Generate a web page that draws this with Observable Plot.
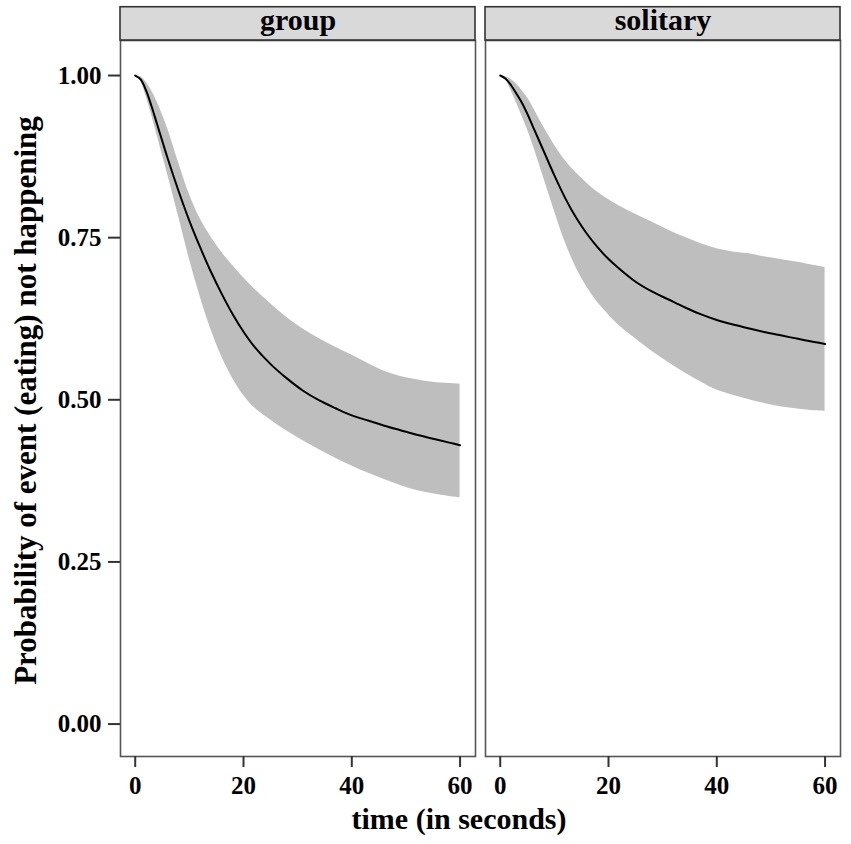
<!DOCTYPE html>
<html>
<head>
<meta charset="utf-8">
<script src="https://cdn.jsdelivr.net/npm/d3@7"></script>
<script src="https://cdn.jsdelivr.net/npm/@observablehq/plot@0.6"></script>
<style>
  html, body { margin: 0; padding: 0; background: #fff; }
  #chart { width: 851px; height: 844px; }
</style>
</head>
<body>
<div id="chart"></div>
<script>
// ---- data ----
const panels = ["group", "solitary"];
const time = [0, 1, 2, 3, 4, 5, 6, 8, 10, 12, 14, 16, 18, 20, 22, 25, 28, 31, 34, 37, 40, 43, 46, 49, 52, 55, 58, 60];

const groupMean  = [1.0, 0.994, 0.977, 0.953, 0.926, 0.899, 0.872, 0.822, 0.776, 0.735, 0.697, 0.663, 0.632, 0.605, 0.582, 0.555, 0.533, 0.514, 0.499, 0.487, 0.476, 0.468, 0.460, 0.453, 0.446, 0.440, 0.434, 0.430];
const groupUpper = [1.0, 0.998, 0.990, 0.977, 0.960, 0.940, 0.918, 0.866, 0.817, 0.779, 0.751, 0.727, 0.707, 0.688, 0.671, 0.648, 0.627, 0.609, 0.594, 0.581, 0.569, 0.556, 0.544, 0.536, 0.531, 0.527, 0.525, 0.524];
const groupLower = [1.0, 0.991, 0.968, 0.940, 0.909, 0.878, 0.847, 0.783, 0.717, 0.659, 0.608, 0.566, 0.533, 0.507, 0.488, 0.469, 0.452, 0.437, 0.423, 0.410, 0.398, 0.387, 0.377, 0.368, 0.360, 0.355, 0.351, 0.349];

const solitaryMean  = [1.0, 0.995, 0.985, 0.972, 0.958, 0.941, 0.922, 0.884, 0.846, 0.811, 0.781, 0.756, 0.735, 0.717, 0.702, 0.682, 0.667, 0.655, 0.643, 0.632, 0.623, 0.616, 0.610, 0.604, 0.599, 0.594, 0.589, 0.586];
const solitaryUpper = [1.0, 0.998, 0.994, 0.987, 0.977, 0.966, 0.952, 0.921, 0.893, 0.869, 0.850, 0.834, 0.820, 0.809, 0.799, 0.786, 0.774, 0.762, 0.751, 0.741, 0.733, 0.728, 0.725, 0.720, 0.716, 0.712, 0.707, 0.704];
const solitaryLower = [1.0, 0.993, 0.977, 0.958, 0.938, 0.917, 0.894, 0.843, 0.791, 0.743, 0.704, 0.674, 0.650, 0.631, 0.614, 0.594, 0.575, 0.558, 0.542, 0.528, 0.515, 0.507, 0.500, 0.494, 0.489, 0.486, 0.483, 0.482];

const xTicks = [0, 20, 40, 60];
const yTicks = [0, 0.25, 0.5, 0.75, 1];
const xTitle = "time (in seconds)";
const yTitle = "Probability of event (eating) not happening";

// ---- table built from the arrays ----
const series = {
  group: {mean: groupMean, lo: groupLower, hi: groupUpper},
  solitary: {mean: solitaryMean, lo: solitaryLower, hi: solitaryUpper}
};
const rows = panels.flatMap(p => time.map((t, i) => ({
  panel: p, t, mean: series[p].mean[i], lo: series[p].lo[i], hi: series[p].hi[i]
})));

const xDomain = [-2.72, 62.85];
const yDomain = [-0.05, 1.054];
const stripTop = 1.1053;
const font = "'Liberation Serif', 'Times New Roman', serif";

const chart = Plot.plot({
  width: 851,
  height: 844,
  marginLeft: 119,
  marginRight: 11,
  marginTop: 40,
  marginBottom: 88,
  style: {fontFamily: font, fontWeight: "bold", color: "#000", background: "#fff"},
  fx: {domain: panels, padding: 0.0274, axis: null, label: null},
  x: {domain: xDomain},
  y: {domain: yDomain},
  marks: [
    Plot.areaY(rows, {fx: "panel", x: "t", y1: "lo", y2: "hi", fill: "#bebebe", curve: "catmull-rom"}),
    Plot.lineY(rows, {fx: "panel", x: "t", y: "mean", stroke: "#000", strokeWidth: 2, curve: "catmull-rom"}),
    Plot.frame({stroke: "#555", strokeWidth: 1.6}),
    Plot.rect(panels, {fx: d => d, x1: () => xDomain[0], x2: () => xDomain[1], y1: () => yDomain[1], y2: () => stripTop,
      fill: "#d9d9d9", stroke: "#333", strokeWidth: 1.6}),
    Plot.text(panels, {fx: d => d, text: d => d, frameAnchor: "top", textAnchor: "middle", lineAnchor: "middle", dy: -20, fontSize: 30, fontWeight: "bold", fill: "#000"}),
    Plot.axisY({ticks: yTicks, tickFormat: d3.format(".2f"), tickSize: 12, tickPadding: 7, fontSize: 25, fontWeight: "bold", stroke: "#333", strokeWidth: 2, label: null}),
    Plot.axisX({ticks: xTicks, tickFormat: d3.format("d"), tickSize: 11, tickPadding: 9, fontSize: 25, fontWeight: "bold", stroke: "#333", strokeWidth: 2, label: null}),
    Plot.text([yTitle], {fx: () => "group", text: d => d, frameAnchor: "left", textAnchor: "middle", lineAnchor: "middle", rotate: -90, dx: -94, dy: 2, fontSize: 31, fontWeight: "bold", fill: "#000"}),
    Plot.text([xTitle], {fx: () => "group", text: d => d, frameAnchor: "bottom-right", textAnchor: "middle", lineAnchor: "middle", dx: -16.5, dy: 63, fontSize: 30, fontWeight: "bold", fill: "#000"})
  ]
});
document.getElementById("chart").appendChild(chart);
</script>
</body>
</html>
